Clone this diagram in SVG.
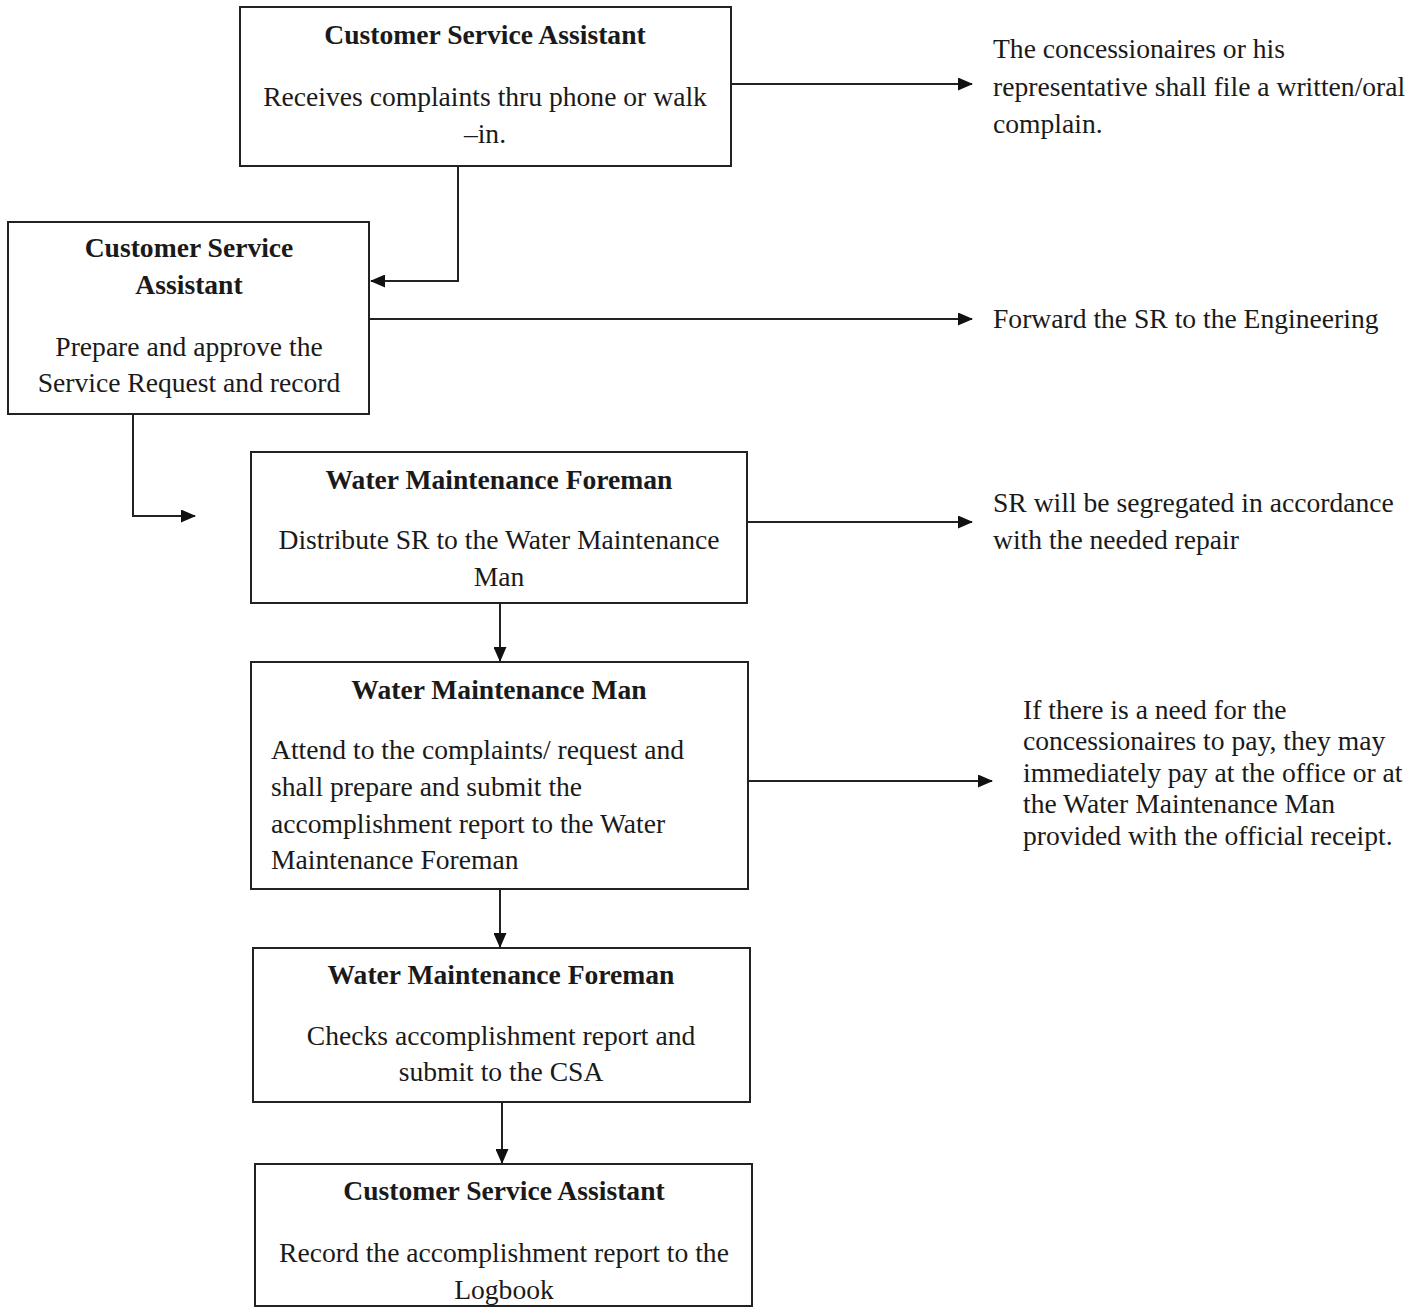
<svg xmlns="http://www.w3.org/2000/svg" width="1420" height="1308" viewBox="0 0 1420 1308">
<style>
.box{fill:#fff;stroke:#222;stroke-width:2}
.t{font-family:"Liberation Serif","Times New Roman",serif;font-size:27.6px;fill:#1a1a1a}
.b{font-weight:bold}
.c{text-anchor:middle}
.ln{fill:none;stroke:#222;stroke-width:2}
</style>
<defs>
<marker id="ah" markerUnits="userSpaceOnUse" markerWidth="15" markerHeight="13" refX="14" refY="6.5" orient="auto">
<path d="M0,0 L15,6.5 L0,13 Z" fill="#111"/>
</marker>
</defs>
<rect width="1420" height="1308" fill="#fff"/>
<g id="connectors">
<path class="ln" d="M458,166 V281 H371" marker-end="url(#ah)"/>
<path class="ln" d="M731,84 H972" marker-end="url(#ah)"/>
<path class="ln" d="M369,319 H972" marker-end="url(#ah)"/>
<path class="ln" d="M133,414 V516 H195" marker-end="url(#ah)"/>
<path class="ln" d="M747,522 H972" marker-end="url(#ah)"/>
<path class="ln" d="M500,603 V661" marker-end="url(#ah)"/>
<path class="ln" d="M748,781 H992" marker-end="url(#ah)"/>
<path class="ln" d="M500,889 V947" marker-end="url(#ah)"/>
<path class="ln" d="M502,1102 V1163" marker-end="url(#ah)"/>
</g>
<g id="n1">
<rect class="box" x="240" y="7" width="491" height="159"/>
<text class="t b c" x="485" y="44">Customer Service Assistant</text>
<text class="t c" x="485" y="106">Receives complaints thru phone or walk</text>
<text class="t c" x="485" y="143">–in.</text>
</g>
<g id="n2">
<rect class="box" x="8" y="222" width="361" height="192"/>
<text class="t b c" x="189" y="257">Customer Service</text>
<text class="t b c" x="189" y="294">Assistant</text>
<text class="t c" x="189" y="356">Prepare and approve the</text>
<text class="t c" x="189" y="392">Service Request and record</text>
</g>
<g id="n3">
<rect class="box" x="251" y="452" width="496" height="151"/>
<text class="t b c" x="499" y="489">Water Maintenance Foreman</text>
<text class="t c" x="499" y="549">Distribute SR to the Water Maintenance</text>
<text class="t c" x="499" y="586">Man</text>
</g>
<g id="n4">
<rect class="box" x="251" y="662" width="497" height="227"/>
<text class="t b c" x="499" y="699">Water Maintenance Man</text>
<text class="t" x="271" y="759">Attend to the complaints/ request and</text>
<text class="t" x="271" y="796">shall prepare and submit the</text>
<text class="t" x="271" y="833">accomplishment report to the Water</text>
<text class="t" x="271" y="869">Maintenance Foreman</text>
</g>
<g id="n5">
<rect class="box" x="253" y="948" width="497" height="154"/>
<text class="t b c" x="501" y="984">Water Maintenance Foreman</text>
<text class="t c" x="501" y="1045">Checks accomplishment report and</text>
<text class="t c" x="501" y="1081">submit to the CSA</text>
</g>
<g id="n6">
<rect class="box" x="255" y="1164" width="497" height="142"/>
<text class="t b c" x="504" y="1200">Customer Service Assistant</text>
<text class="t c" x="504" y="1262">Record the accomplishment report to the</text>
<text class="t c" x="504" y="1299">Logbook</text>
</g>
<g id="notes">
<text class="t" x="993" y="58">The concessionaires or his</text>
<text class="t" x="993" y="96">representative shall file a written/oral</text>
<text class="t" x="993" y="133">complain.</text>
<text class="t" x="993" y="328">Forward the SR to the Engineering</text>
<text class="t" x="993" y="512">SR will be segregated in accordance</text>
<text class="t" x="993" y="549">with the needed repair</text>
<text class="t" x="1023" y="719">If there is a need for the</text>
<text class="t" x="1023" y="750">concessionaires to pay, they may</text>
<text class="t" x="1023" y="782">immediately pay at the office or at</text>
<text class="t" x="1023" y="813">the Water Maintenance Man</text>
<text class="t" x="1023" y="845">provided with the official receipt.</text>
</g>
</svg>
